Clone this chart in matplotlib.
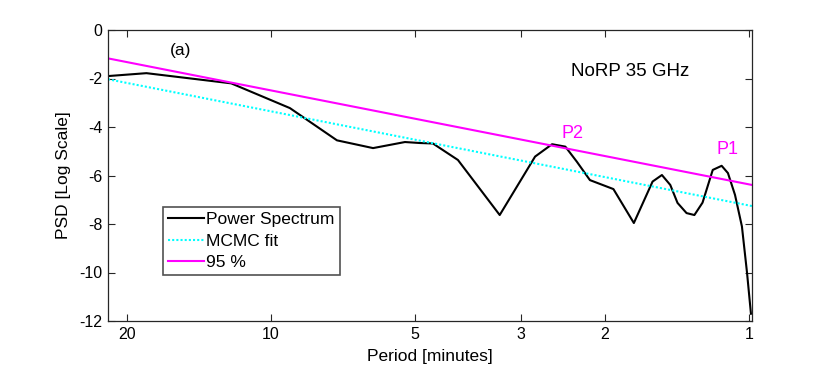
import numpy as np
import matplotlib
matplotlib.use("Agg")
import matplotlib.pyplot as plt

plt.rcParams['font.family'] = ['Liberation Sans', 'DejaVu Sans']
plt.rcParams['axes.unicode_minus'] = False

# Power spectrum (period in minutes, log10 PSD)
period = [21.9, 18.2, 12.1, 9.12, 7.27, 6.11, 5.24, 4.88, 4.58, 4.06, 3.32, 2.80,
          2.58, 2.42, 2.29, 2.15, 1.92, 1.74, 1.59, 1.52, 1.46, 1.41, 1.35, 1.30,
          1.25, 1.19, 1.14, 1.106, 1.069, 1.034, 1.009, 0.99]
psd = [-1.9, -1.78, -2.2, -3.22, -4.55, -4.87, -4.62, -4.66, -4.68, -5.36, -7.63, -5.22,
       -4.71, -4.81, -5.43, -6.19, -6.56, -7.96, -6.25, -5.98, -6.39, -7.13, -7.55, -7.63,
       -7.12, -5.77, -5.6, -5.9, -6.8, -8.1, -10.0, -11.7]

# straight-line fits (end points)
fit_period = [21.9, 0.985]
mcmc_fit = [-2.03, -7.26]
conf95 = [-1.17, -6.39]

fig = plt.figure(figsize=(8.3, 3.73), dpi=100)
ax = fig.add_axes([108/830, 1-321/373, 644/830, 291/373])

ax.plot(period, psd, color='black', lw=1.5, label='Power Spectrum')
ax.plot(fit_period, mcmc_fit, color='cyan', lw=1.5, ls=(0, (1, 1)), label='MCMC fit')
ax.plot(fit_period, conf95, color='magenta', lw=1.5, label='95 %')

ax.set_xscale('log')
ax.set_xlim(21.9, 0.985)
ax.set_ylim(-12, 0)
ax.set_xticks([20, 10, 5, 3, 2, 1])
ax.set_xticklabels(['20', '10', '5', '3', '2', '1'])
ax.xaxis.set_minor_locator(matplotlib.ticker.NullLocator())
ax.set_yticks(np.arange(-12, 1, 2))
ax.tick_params(direction='in', top=True, right=True, labelsize=11.5, length=5,
               color='0.15', labelcolor='black', width=0.8, pad=4)
for s in ax.spines.values():
    s.set_color('0.15')
    s.set_linewidth(0.9)

ax.set_xlabel('Period [minutes]', fontsize=12.5, labelpad=5)
ax.set_ylabel('PSD [Log Scale]', fontsize=12.5, labelpad=6)

ax.text(0.113, 0.928, '(a)', transform=ax.transAxes, fontsize=12.5, ha='center', va='center')
ax.text(0.81, 0.859, 'NoRP 35 GHz', transform=ax.transAxes, fontsize=13.5,
        ha='center', va='center')
ax.text(2.34, -4.25, 'P2', color='magenta', fontsize=13, ha='center', va='center')
ax.text(1.11, -4.91, 'P1', color='magenta', fontsize=13, ha='center', va='center')

leg = ax.legend(loc='upper left', bbox_to_anchor=(0.085, 0.392), fontsize=12.5,
                frameon=True, fancybox=False, handlelength=2.1, handletextpad=0.1,
                borderpad=0.3, labelspacing=0.36, borderaxespad=0)
leg._legend_box.sep = 0
leg.get_frame().set_edgecolor('0.15')
leg.get_frame().set_linewidth(1.2)

fig.savefig('out.png', dpi=100)
